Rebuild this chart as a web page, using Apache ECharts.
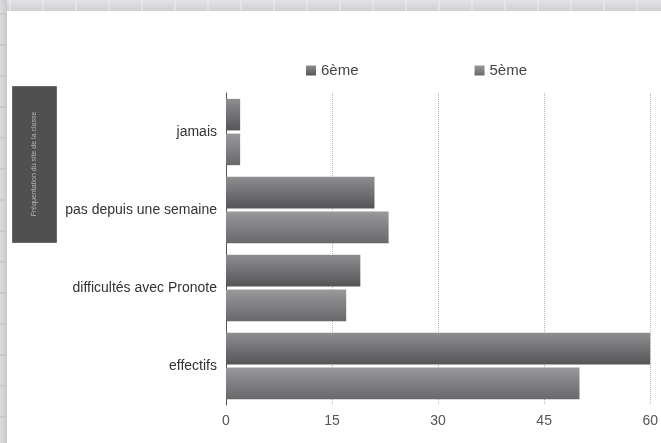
<!DOCTYPE html>
<html>
<head>
<meta charset="utf-8">
<script src="https://cdn.jsdelivr.net/npm/echarts@6/dist/echarts.min.js"></script>
<style>
html,body{margin:0;padding:0;background:#fff;}
#c{width:661px;height:443px;}
</style>
</head>
<body>
<div id="c"></div>
<script>
var categories = ['jamais', 'pas depuis une semaine', 'difficultés avec Pronote', 'effectifs'];
var series6 = [2, 21, 19, 60];
var series5 = [2, 23, 17, 50];
var seriesNames = ['6ème', '5ème'];
var sideTitle = 'Fréquentation du site de la classe';

var chart = echarts.init(document.getElementById('c'), null, {renderer: 'canvas'});

function grad(top, bottom) {
  return new echarts.graphic.LinearGradient(0, 0, 0, 1, [
    {offset: 0, color: top},
    {offset: 1, color: bottom}
  ]);
}

var frameGraphics = [];
frameGraphics.push({
  type: 'rect', left: 0, top: 0, z: -10,
  shape: {width: 661, height: 11},
  style: {fill: grad('#e4e4e6', '#cfcfd1')}
});
frameGraphics.push({
  type: 'rect', left: 0, top: 0, z: -10,
  shape: {width: 7, height: 443},
  style: {fill: new echarts.graphic.LinearGradient(0, 0, 1, 0, [
    {offset: 0, color: '#dcdcde'}, {offset: 1, color: '#cacacc'}])}
});
for (var gx = 10; gx < 661; gx += 33) {
  frameGraphics.push({type: 'line', z: -9, shape: {x1: gx, y1: 0, x2: gx, y2: 11},
    style: {stroke: '#eeeeee', lineWidth: 1}});
}
for (var gy = 14; gy < 443; gy += 31) {
  frameGraphics.push({type: 'line', z: -9, shape: {x1: 0, y1: gy, x2: 7, y2: gy},
    style: {stroke: '#bdbdbf', lineWidth: 1}});
}
frameGraphics.push({
  type: 'rect', left: 12, top: 86, z: 1,
  shape: {width: 44, height: 156},
  style: {fill: '#505051', stroke: '#6a6a6a', lineWidth: 1}
});
frameGraphics.push({
  type: 'text', z: 2,
  x: 34, y: 164, rotation: Math.PI / 2,
  style: {text: sideTitle, fill: '#b4b4b4', font: '7px "Liberation Sans", Arial, sans-serif',
    align: 'center', verticalAlign: 'middle'}
});

var option = {
  animation: false,
  backgroundColor: '#ffffff',
  textStyle: {fontFamily: '"Liberation Sans", Helvetica, Arial, sans-serif'},
  graphic: frameGraphics,
  legend: {
    left: 301, top: 58,
    itemWidth: 10, itemHeight: 10, itemGap: 116,
    icon: 'rect',
    textStyle: {fontSize: 15, color: '#444'},
    data: seriesNames
  },
  grid: {left: 226, right: 9, top: 93, bottom: 38, containLabel: false},
  xAxis: {
    type: 'value', min: 0, max: 60, interval: 15,
    axisLine: {show: false}, axisTick: {show: false},
    axisLabel: {fontSize: 14, color: '#555', margin: 9},
    splitLine: {show: true, lineStyle: {type: 'dotted', color: '#b8b8b8', width: 1}}
  },
  yAxis: {
    type: 'category', inverse: true, data: categories,
    axisLine: {show: true, lineStyle: {color: '#555', width: 1}},
    axisTick: {show: false},
    axisLabel: {fontSize: 14, color: '#333', margin: 9}
  },
  series: [
    {
      name: seriesNames[0], type: 'bar', data: series6,
      barCategoryGap: '15%', barGap: '10%',
      itemStyle: {color: grad('#8e8e90', '#555557')}
    },
    {
      name: seriesNames[1], type: 'bar', data: series5,
      barCategoryGap: '15%', barGap: '10%',
      itemStyle: {color: grad('#99999b', '#68686a')}
    }
  ]
};
chart.setOption(option);
</script>
</body>
</html>
